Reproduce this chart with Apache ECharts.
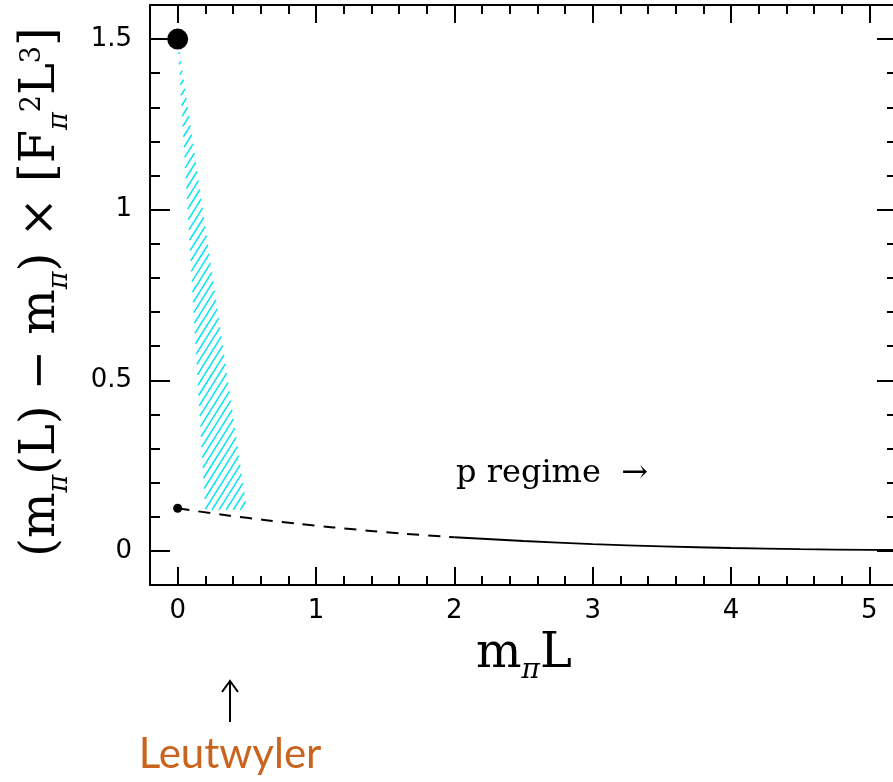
<!DOCTYPE html>
<html><head><meta charset="utf-8">
<script src="https://cdn.jsdelivr.net/npm/echarts@6/dist/echarts.min.js"></script>
<style>html,body{margin:0;padding:0;background:#fff}#c{width:893px;height:782px}</style>
</head><body><div id="c"></div>
<script>
// ---- data ----
const curveX = [0, 0.25, 0.5, 0.75, 1, 1.25, 1.5, 1.75, 2, 2.5, 3, 3.5, 4, 4.5, 5, 5.2];
const curveY = [0.125, 0.110, 0.097, 0.085, 0.074, 0.064, 0.055, 0.047, 0.040, 0.029, 0.020, 0.0135, 0.0085, 0.005, 0.003, 0.0025];
const dashEndX = 2;
const bigDotX = [0];
const bigDotY = [1.5];
const smallDotX = [0];
const smallDotY = [0.125];
const hatchX = [0, 0.2, 0.5];
const hatchY = [1.5, 0.12, 0.12];
const xMajorTicks = [0, 1, 2, 3, 4, 5];
const xTickLabels = ['0', '1', '2', '3', '4', '5'];
const yMajorTicks = [0, 0.5, 1, 1.5];
const yTickLabels = ['0', '0.5', '1', '1.5'];

// ---- styles ----
const HATCH_COLOR = '#00e6f2';
const HATCH_ANGLE = 58;
const HATCH_SPACING = 6;
const SERIF = '"DejaVu Serif", "Liberation Serif", serif';
const SANS = '"DejaVu Sans", sans-serif';

const chart = echarts.init(document.getElementById('c'), null, {renderer: 'canvas'});

function lookup(vals, labels, v) {
  for (let i = 0; i < vals.length; i++) if (Math.abs(vals[i] - v) < 1e-6) return labels[i];
  return '';
}

const axLine = {show: true, onZero: false, lineStyle: {color: '#000', width: 2}};
function xAxisPair(pos, withLabels) {
  return [
    {type: 'value', position: pos, min: -0.2, max: 5.2, interval: 0.2,
     axisLine: axLine,
     axisTick: {show: true, inside: true, length: 9, lineStyle: {color: '#000', width: 2}},
     axisLabel: withLabels ? {show: true, customValues: xMajorTicks, formatter: v => lookup(xMajorTicks, xTickLabels, v),
       color: '#000', fontFamily: SANS, fontSize: 26, margin: 13} : {show: false},
     splitLine: {show: false}},
    {type: 'value', position: pos, min: -0.2, max: 5.2,
     axisLine: {show: false, onZero: false},
     axisTick: {show: true, inside: true, length: 18, customValues: xMajorTicks, lineStyle: {color: '#000', width: 2}},
     axisLabel: {show: false}, splitLine: {show: false}}
  ];
}
function yAxisPair(pos, withLabels) {
  return [
    {type: 'value', position: pos, min: -0.1, max: 1.6, interval: 0.1,
     axisLine: axLine,
     axisTick: {show: true, inside: true, length: 10, lineStyle: {color: '#000', width: 2}},
     axisLabel: withLabels ? {show: true, customValues: yMajorTicks, formatter: v => lookup(yMajorTicks, yTickLabels, v),
       color: '#000', fontFamily: SANS, fontSize: 26, margin: 18} : {show: false},
     splitLine: {show: false}},
    {type: 'value', position: pos, min: -0.1, max: 1.6,
     axisLine: {show: false, onZero: false},
     axisTick: {show: true, inside: true, length: 20, customValues: yMajorTicks, lineStyle: {color: '#000', width: 2}},
     axisLabel: {show: false}, splitLine: {show: false}}
  ];
}

const dashedData = [], solidData = [];
curveX.forEach((x, i) => {
  if (x <= dashEndX) dashedData.push([x, curveY[i]]);
  if (x >= dashEndX) solidData.push([x, curveY[i]]);
});

function hatchRender(params, api) {
  const pts = hatchX.map((x, i) => api.coord([x, hatchY[i]]));
  const a = HATCH_ANGLE * Math.PI / 180;
  const nx = Math.sin(a), ny = Math.cos(a);
  const proj = pts.map(p => p[0] * nx + p[1] * ny);
  const cmin = Math.min.apply(null, proj), cmax = Math.max.apply(null, proj);
  const children = [];
  for (let c = Math.ceil(cmin / HATCH_SPACING) * HATCH_SPACING; c <= cmax; c += HATCH_SPACING) {
    const hits = [];
    for (let i = 0; i < pts.length; i++) {
      const j = (i + 1) % pts.length;
      const pa = proj[i] - c, pb = proj[j] - c;
      if ((pa <= 0 && pb > 0) || (pa > 0 && pb <= 0)) {
        const t = pa / (pa - pb);
        hits.push([pts[i][0] + t * (pts[j][0] - pts[i][0]), pts[i][1] + t * (pts[j][1] - pts[i][1])]);
      }
    }
    if (hits.length >= 2) {
      children.push({type: 'line', shape: {x1: hits[0][0], y1: hits[0][1], x2: hits[1][0], y2: hits[1][1]},
        style: {stroke: HATCH_COLOR, lineWidth: 1.5}});
    }
  }
  return {type: 'group', children: children};
}

const option = {
  backgroundColor: '#fff',
  animation: false,
  grid: {left: 150, top: 5, width: 747, height: 580, containLabel: false, outerBoundsMode: 'none'},
  xAxis: [].concat(xAxisPair('bottom', true), xAxisPair('top', false)),
  yAxis: [].concat(yAxisPair('left', true), yAxisPair('right', false)),
  series: [
    {type: 'custom', xAxisIndex: 0, yAxisIndex: 0, renderItem: hatchRender,
     data: [[hatchX[0], hatchY[0]]], silent: true, z: 1},
    {type: 'line', xAxisIndex: 0, yAxisIndex: 0, data: dashedData, showSymbol: false, smooth: true,
     lineStyle: {color: '#000', width: 2, type: [12, 9]}, z: 2},
    {type: 'line', xAxisIndex: 0, yAxisIndex: 0, data: solidData, showSymbol: false, smooth: true,
     lineStyle: {color: '#000', width: 1.8}, z: 2},
    {type: 'scatter', xAxisIndex: 0, yAxisIndex: 0, data: bigDotX.map((x, i) => [x, bigDotY[i]]),
     symbolSize: 21, itemStyle: {color: '#000', opacity: 1}, z: 3},
    {type: 'scatter', xAxisIndex: 0, yAxisIndex: 0, data: smallDotX.map((x, i) => [x, smallDotY[i]]),
     symbolSize: 9, itemStyle: {color: '#000', opacity: 1}, z: 3}
  ],
  graphic: [
    {type: 'text', x: 456, y: 474, style: {text: 'p regime  →', font: '32px ' + SERIF, fill: '#000', verticalAlign: 'middle'}},
    {type: 'text', x: 524, y: 655, style: {
      text: '{n|m}{s|π}{n|L}', align: 'center', verticalAlign: 'middle',
      rich: {n: {fontFamily: SERIF, fontSize: 48, lineHeight: 60, color: '#000'},
             s: {fontFamily: SERIF, fontStyle: 'italic', fontSize: 28, lineHeight: 28, verticalAlign: 'bottom', color: '#000'}}}},
    {type: 'text', x: 42, y: 292, rotation: Math.PI / 2, style: {
      text: '{n|(m}{s|π}{n|(L) − m}{s|π}{n|) × [F}{s|π}{p|2}{n|L}{p|3}{n|]}', align: 'center', verticalAlign: 'middle',
      rich: {n: {fontFamily: SERIF, fontSize: 48, lineHeight: 62, color: '#000'},
             s: {fontFamily: SERIF, fontStyle: 'italic', fontSize: 27, lineHeight: 27, verticalAlign: 'bottom', color: '#000'},
             p: {fontFamily: SERIF, fontSize: 27, lineHeight: 27, padding: [8, 0, 0, 0], verticalAlign: 'top', color: '#000'}}}},
    {type: 'group', children: [
      {type: 'line', shape: {x1: 230, y1: 722, x2: 230, y2: 682}, style: {stroke: '#000', lineWidth: 2}},
      {type: 'polyline', shape: {points: [[222, 692], [230, 681], [238, 692]]}, style: {stroke: '#000', lineWidth: 2, fill: null}}
    ]},
    {type: 'text', x: 230, y: 754, style: {text: 'Leutwyler', font: '42px Lato, "Open Sans", sans-serif', fill: '#c8641e', align: 'center', verticalAlign: 'middle'}}
  ]
};
chart.setOption(option);
</script>
</body></html>
